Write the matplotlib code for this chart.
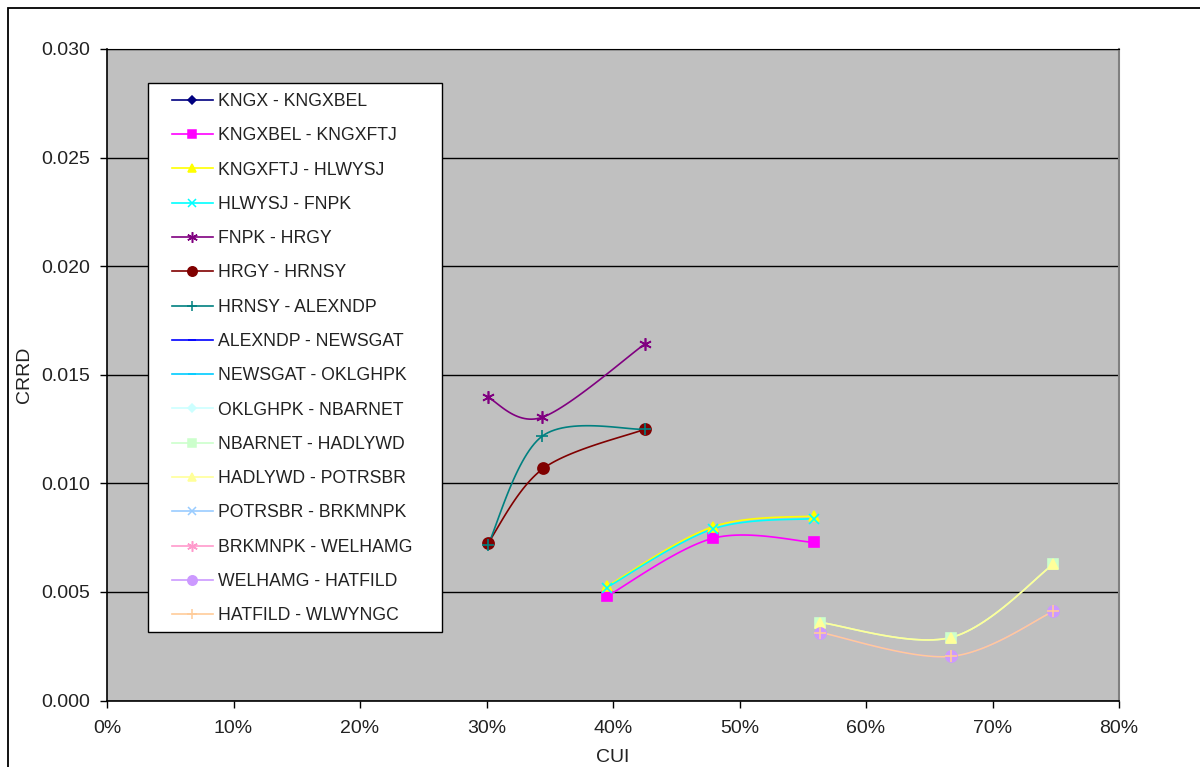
import numpy as np
import matplotlib
matplotlib.use("Agg")
import matplotlib.pyplot as plt
from matplotlib.patches import Rectangle
from matplotlib.ticker import FuncFormatter, MultipleLocator

plt.rcParams["font.family"] = ["Liberation Sans", "DejaVu Sans"]

# series (CUI as fraction, CRRD)
names = ["KNGX - KNGXBEL", "KNGXBEL - KNGXFTJ", "KNGXFTJ - HLWYSJ", "HLWYSJ - FNPK",
         "FNPK - HRGY", "HRGY - HRNSY", "HRNSY - ALEXNDP", "ALEXNDP - NEWSGAT",
         "NEWSGAT - OKLGHPK", "OKLGHPK - NBARNET", "NBARNET - HADLYWD", "HADLYWD - POTRSBR",
         "POTRSBR - BRKMNPK", "BRKMNPK - WELHAMG", "WELHAMG - HATFILD", "HATFILD - WLWYNGC"]

kngx_x, kngx_y = [], []
kngxbel_x = [0.395, 0.479, 0.559]
kngxbel_y = [0.00479, 0.00747, 0.00728]
kngxftj_x = [0.395, 0.479, 0.559]
kngxftj_y = [0.00525, 0.00800, 0.00850]
hlwysj_x = [0.395, 0.479, 0.559]
hlwysj_y = [0.00520, 0.00790, 0.00838]
fnpk_x = [0.301, 0.344, 0.425]
fnpk_y = [0.01396, 0.01304, 0.01641]
hrgy_x = [0.301, 0.345, 0.425]
hrgy_y = [0.00723, 0.01069, 0.01249]
hrnsy_x = [0.301, 0.344, 0.425]
hrnsy_y = [0.00714, 0.01217, 0.01249]
alexndp_x, alexndp_y = [], []
newsgat_x, newsgat_y = [], []
oklghpk_x, oklghpk_y = [], []
nbarnet_x = [0.564, 0.667, 0.748]
nbarnet_y = [0.00359, 0.00290, 0.00627]
hadlywd_x = [0.564, 0.667, 0.748]
hadlywd_y = [0.00359, 0.00290, 0.00627]
potrsbr_x, potrsbr_y = [], []
brkmnpk_x, brkmnpk_y = [], []
welhamg_x = [0.564, 0.667, 0.748]
welhamg_y = [0.00313, 0.00203, 0.00410]
hatfild_x = [0.564, 0.667, 0.748]
hatfild_y = [0.00313, 0.00203, 0.00410]

xs = [kngx_x, kngxbel_x, kngxftj_x, hlwysj_x, fnpk_x, hrgy_x, hrnsy_x, alexndp_x,
      newsgat_x, oklghpk_x, nbarnet_x, hadlywd_x, potrsbr_x, brkmnpk_x, welhamg_x, hatfild_x]
ys = [kngx_y, kngxbel_y, kngxftj_y, hlwysj_y, fnpk_y, hrgy_y, hrnsy_y, alexndp_y,
      newsgat_y, oklghpk_y, nbarnet_y, hadlywd_y, potrsbr_y, brkmnpk_y, welhamg_y, hatfild_y]

colors = ["#000080", "#FF00FF", "#FFFF00", "#00FFFF", "#800080", "#800000", "#008080", "#0000FF",
          "#00CCFF", "#CCFFFF", "#CCFFCC", "#FFFF99", "#99CCFF", "#FF99CC", "#CC99FF", "#FFCC99"]
markers = ["D", "s", "^", "x", (6, 2, 0), "o", "+", "_",
           "_", "D", "s", "^", "x", (6, 2, 0), "o", "+"]
msizes = [5, 7.5, 7, 7, 9, 8, 9, 6, 6, 5, 7.5, 7, 7, 9, 8, 9]


def smooth(x, y, n=30):
    # Excel-style smoothed line: cubic bezier through the points
    if len(x) < 2:
        return np.array(x), np.array(y)
    p = np.column_stack([x, y]).astype(float)
    ext = np.vstack([p[0], p, p[-1]])
    t = np.linspace(0, 1, n)[:, None]
    out = []
    for i in range(len(p) - 1):
        p0, p1 = p[i], p[i + 1]
        c1 = p0 + (ext[i + 2] - ext[i]) / 6
        c2 = p1 - (ext[i + 3] - ext[i + 1]) / 6
        seg = ((1 - t) ** 3) * p0 + 3 * ((1 - t) ** 2) * t * c1 + 3 * (1 - t) * t ** 2 * c2 + t ** 3 * p1
        out.append(seg)
    out = np.vstack(out)
    return out[:, 0], out[:, 1]


fig = plt.figure(figsize=(12, 7.67), dpi=100)
W, H = 1200, 767

# outer chart border (right/bottom run off the image)
fig.patches.append(Rectangle((8 / W, -0.05), 1.1, 1 - 8 / H + 0.05, transform=fig.transFigure,
                             fill=False, edgecolor="black", linewidth=1.3, zorder=0))

ax = fig.add_axes([107 / W, 1 - 700.5 / H, (1119 - 107) / W, (700.5 - 49) / H])
ax.set_facecolor("#C0C0C0")

handles = []
for i in range(len(names)):
    sx, sy = smooth(xs[i], ys[i])
    ax.plot(sx, sy, color=colors[i], linewidth=1.2, zorder=3)
    ax.plot(xs[i], ys[i], linestyle="none", marker=markers[i], markersize=msizes[i],
            color=colors[i], markeredgecolor=colors[i], markeredgewidth=1.2, zorder=4)
    h, = ax.plot([], [], color=colors[i], linewidth=1.2, marker=markers[i],
                 markersize=msizes[i] * 0.85, markeredgewidth=1.1)
    handles.append(h)

ax.set_xlim(0, 0.8)
ax.set_ylim(0, 0.030)
ax.xaxis.set_major_locator(MultipleLocator(0.1))
ax.yaxis.set_major_locator(MultipleLocator(0.005))
ax.xaxis.set_major_formatter(FuncFormatter(lambda v, p: f"{v * 100:.0f}%"))
ax.yaxis.set_major_formatter(FuncFormatter(lambda v, p: f"{v:.3f}"))
ax.yaxis.grid(True, color="black", linewidth=1.0)
ax.set_axisbelow(True)
ax.tick_params(axis="both", labelsize=14, length=5, width=1, color="black", labelcolor="#222222")
ax.tick_params(axis="y", pad=7)
ax.tick_params(axis="x", pad=9)
for s in ["left", "bottom"]:
    ax.spines[s].set_color("black")
    ax.spines[s].set_linewidth(1.2)
ax.spines["top"].set_color("black")
ax.spines["right"].set_color("#808080")
ax.spines["right"].set_linewidth(1.5)
ax.set_xlabel("CUI", fontsize=14, color="#222222", labelpad=9)
ax.set_ylabel("CRRD", fontsize=14, color="#222222", labelpad=6)

# legend box
fig.patches.append(Rectangle((148 / W, 1 - 632 / H), (442 - 148) / W, (632 - 83) / H,
                             transform=fig.transFigure, facecolor="white", edgecolor="black",
                             linewidth=1.0, zorder=5))
leg = fig.legend(handles, names, loc="upper left", bbox_to_anchor=(172 / W, 1 - 93 / H),
                 bbox_transform=fig.transFigure, frameon=False, fontsize=12.7,
                 handlelength=2.3, handletextpad=0.3, labelspacing=0.98,
                 borderpad=0, borderaxespad=0)
leg.set_zorder(6)
for t in leg.get_texts():
    t.set_color("#222222")

fig.savefig("out.png", dpi=100)
